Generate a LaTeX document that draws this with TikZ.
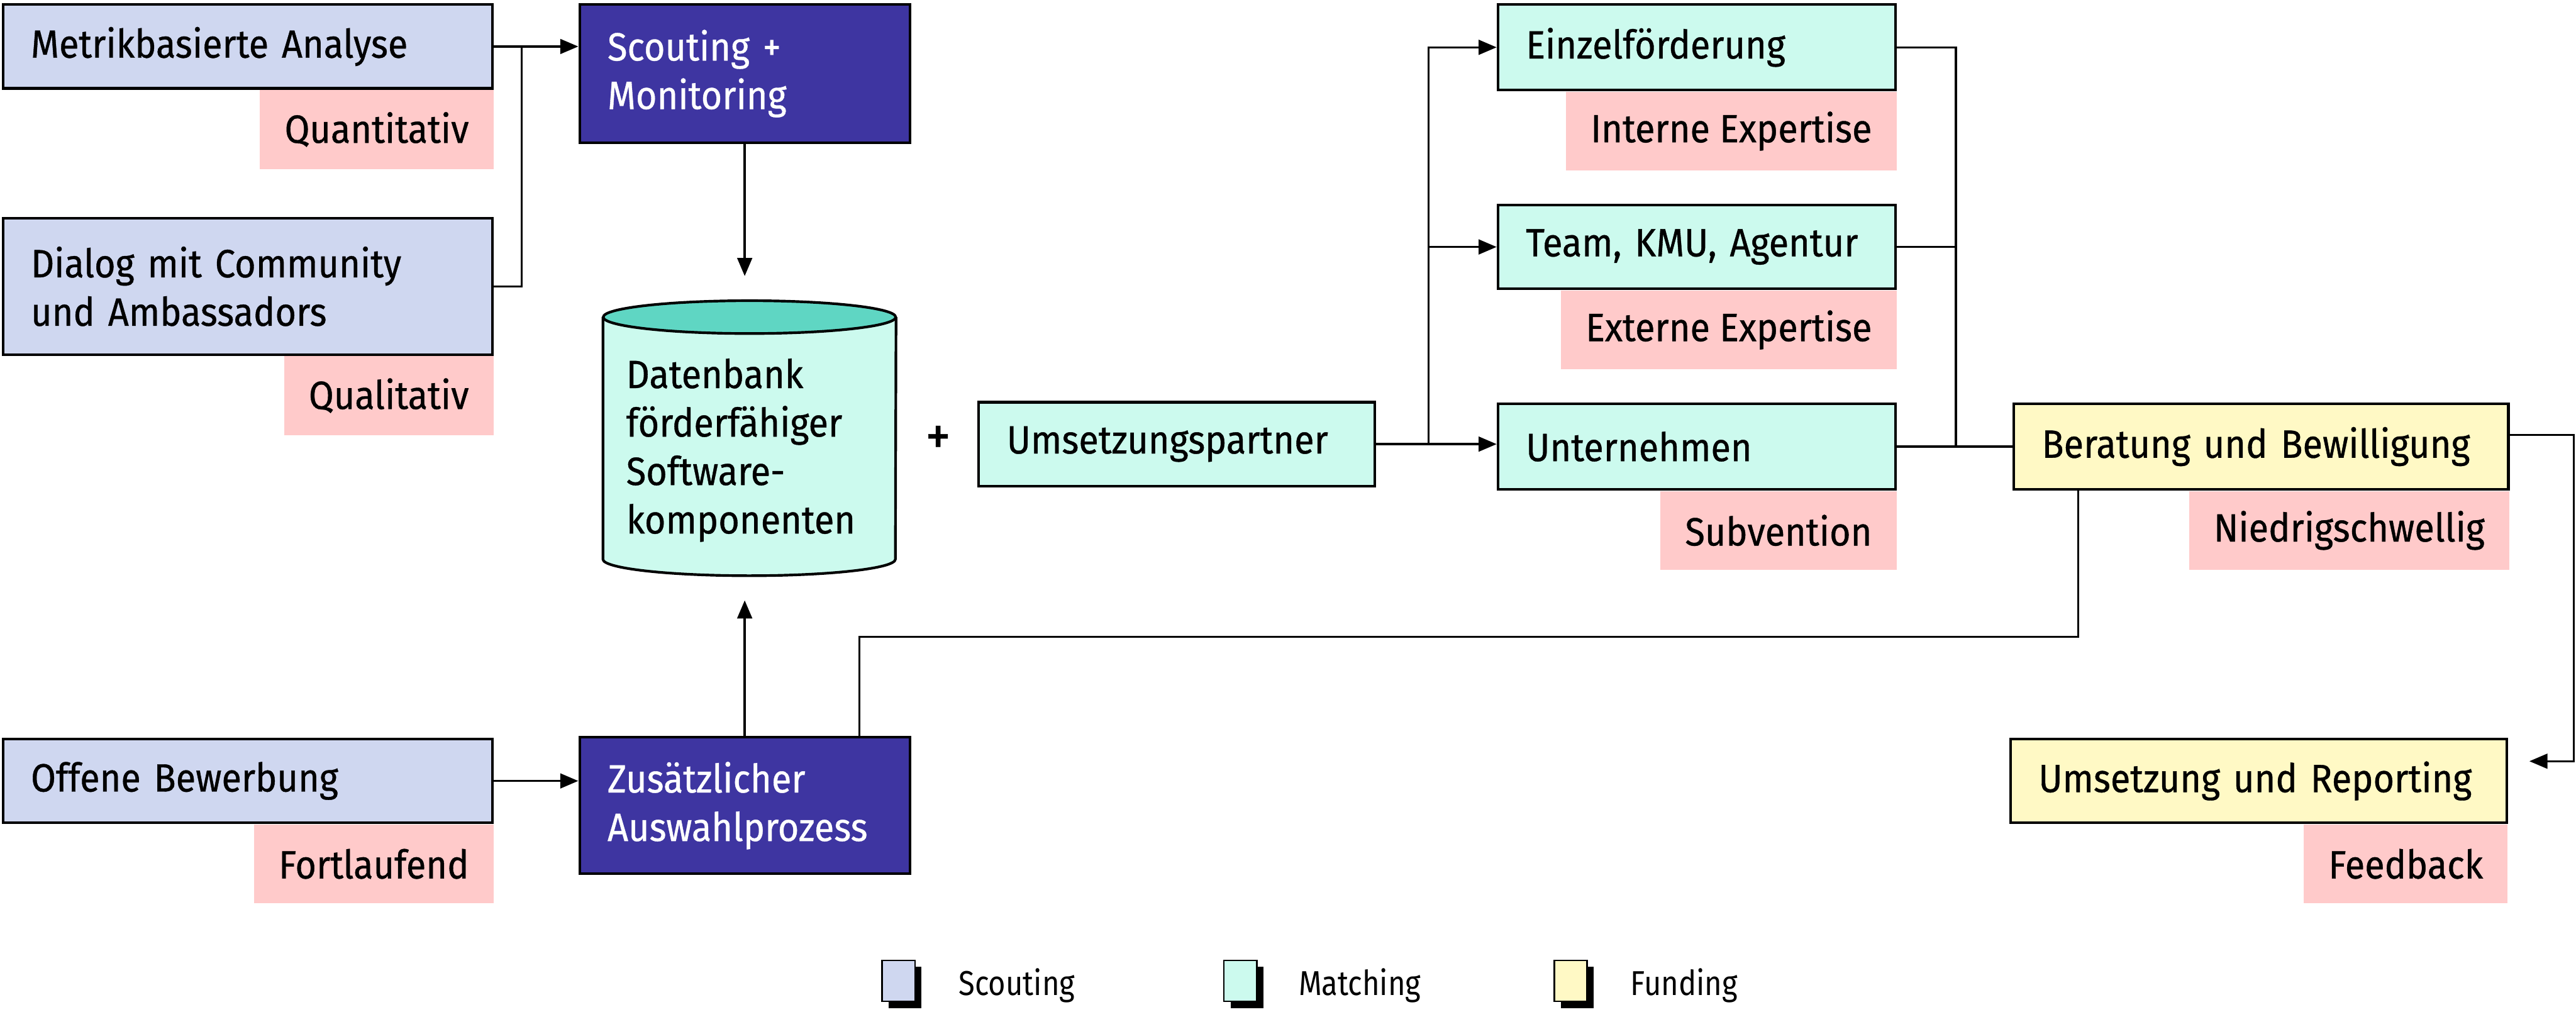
\documentclass[tikz,border=0pt]{standalone}
\usepackage{fontspec}
\setmainfont{Fira Sans}[FakeStretch=0.92, FakeBold=0.6]
\newfontfamily\legfont{Fira Sans}[FakeStretch=0.86]
\usetikzlibrary{arrows.meta,calc,backgrounds,shadows}
\definecolor{scout}{HTML}{CFD7F0}
\definecolor{purp}{HTML}{3E35A1}
\definecolor{mint}{HTML}{CCFAEE}
\definecolor{teal}{HTML}{5FD6C3}
\definecolor{fund}{HTML}{FFF9C5}
\definecolor{tagpink}{HTML}{FFCACA}
\begin{document}
\begin{tikzpicture}[x=1pt,y=-1pt,
  font=\fontsize{24}{29.5}\selectfont,
  box/.style={draw, line width=1.6pt, anchor=north west, inner xsep=17pt, inner ysep=0pt, align=left},
  scoutbox/.style={box, fill=scout},
  purplebox/.style={box, fill=purp, text=white},
  matchbox/.style={box, fill=mint},
  fundbox/.style={box, fill=fund},
  tag/.style={fill=tagpink, anchor=north east, inner xsep=15pt, inner ysep=0pt, minimum height=48pt},
  link/.style={line width=1.3pt},
  arr/.style={link, -{Triangle[length=11pt,width=9pt]}},
  legsq/.style={draw, line width=1pt, minimum width=20pt, minimum height=25pt, inner sep=0pt,
    drop shadow={shadow xshift=4pt, shadow yshift=-4pt, fill=black, opacity=1}},
  legtext/.style={anchor=west, font=\legfont\fontsize{21}{24}\selectfont}
]
\useasboundingbox (0,0) rectangle (1568,615.6);

% Scouting sources
\node[scoutbox, minimum height=51pt, text width=264pt] (m1) at (1,2) {Metrikbasierte Analyse};
\node[scoutbox, minimum height=83pt, text width=264pt] (m2) at (1,132) {Dialog mit Community\\und Ambassadors};
\node[scoutbox, minimum height=51pt, text width=264pt] (ob) at (1,449) {Offene Bewerbung};

% Scouting steps
\node[purplebox, minimum height=84pt, text width=167pt] (sc) at (352,2) {Scouting +\\Monitoring};
\node[purplebox, minimum height=83pt, text width=167pt] (za) at (352,448) {Zusätzlicher\\Auswahlprozess};

% Database cylinder
\node[minimum width=178pt, minimum height=167pt, inner sep=0pt, anchor=north west] (db) at (367,183) {};
\draw[line width=1.6pt, fill=mint] ($(db.north west)+(0,10)$) -- ($(db.south west)+(0,-10)$)
  arc[start angle=180, end angle=0, x radius=89, y radius=10] -- ($(db.north east)+(0,10)$);
\draw[line width=1.6pt, fill=teal] ($(db.north)+(0,10)$) ellipse[x radius=89, y radius=10];
\node[align=left, anchor=west, inner sep=0pt] (dbt) at (381,274) {Datenbank\\förderfähiger\\Software-\\komponenten};

\node[font=\fontsize{34}{36}\selectfont] (plus) at (571,268) {+};

% Matching
\node[matchbox, minimum height=51pt, text width=207pt] (up) at (595,244) {Umsetzungspartner};
\node[matchbox, minimum height=52pt, text width=208pt] (ef) at (911,2) {Einzelförderung};
\node[matchbox, minimum height=51pt, text width=208pt] (tk) at (911,124) {Team, KMU, Agentur};
\node[matchbox, minimum height=52pt, text width=208pt] (un) at (911,245) {Unternehmen};

% Funding
\node[fundbox, minimum height=52pt, text width=267pt] (bb) at (1225,245) {Beratung und Bewilligung};
\node[fundbox, minimum height=51pt, text width=268pt] (ur) at (1223,449) {Umsetzung und Reporting};

% Tags below the boxes
\begin{scope}[on background layer]
\node[tag] (t1) at (m1.south east) {Quantitativ};
\node[tag] (t2) at (m2.south east) {Qualitativ};
\node[tag] (t3) at (ob.south east) {Fortlaufend};
\node[tag] (t4) at (ef.south east) {Interne Expertise};
\node[tag] (t5) at (tk.south east) {Externe Expertise};
\node[tag] (t6) at (un.south east) {Subvention};
\node[tag] (t7) at (bb.south east) {Niedrigschwellig};
\node[tag] (t8) at (ur.south east) {Feedback};
\end{scope}

% Connectors
\coordinate (j1) at ($(m1.east)+(17,0)$);
\draw[arr] (m1.east) -- (m1.east -| sc.west);
\draw[link] (m2.east) -| (j1);
\draw[arr, shorten >=15pt] (sc.south) -- (sc.south |- db.north);
\draw[arr, shorten >=15pt] (za.north) -- (za.north |- db.south);
\draw[arr] (ob.east) -- (ob.east -| za.west);

\coordinate (j2) at ($(up.east)+(32,0)$);
\draw[arr] (up.east) -- (up.east -| un.west);
\draw[arr] (j2) |- (ef.west);
\draw[arr] (j2) |- (tk.west);

\coordinate (j3) at ($(un.east)+(36,0)$);
\draw[link] (ef.east) -| (j3);
\draw[link] (tk.east) -- (tk.east -| j3);
\draw[link] (un.east) -- (bb.west);

\coordinate (bo) at ($(bb.east)+(0,-7)$);
\draw[arr, shorten >=13pt] (bo) -- ++(39,0) |- ($(ur.east)+(0,-12)$);

\coordinate (fa) at ($(bb.south west)+(40,0)$);
\coordinate (fz) at ($(za.north west)+(171,0)$);
\draw[link] (fa) -- ++(0,89) -| (fz);

% Legend
\node[legsq, fill=scout] (lg1) at (547,597) {};
\node[legtext] (lt1) at (580,600) {Scouting};
\node[legsq, fill=mint] (lg2) at (755,597) {};
\node[legtext] (lt2) at (787,600) {Matching};
\node[legsq, fill=fund] (lg3) at (956,597) {};
\node[legtext] (lt3) at (989,600) {Funding};
\end{tikzpicture}
\end{document}
